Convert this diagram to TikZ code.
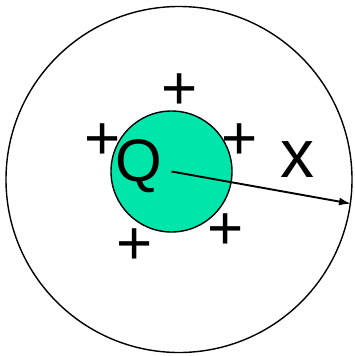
\documentclass[tikz,border=0pt]{standalone}
\usepackage{fontspec}
\setmainfont{Liberation Sans}
\usepackage{tikz}
\usetikzlibrary{arrows.meta,positioning}
\definecolor{ChargeGreen}{RGB}{0,229,170}

\begin{document}
\begin{tikzpicture}[
  x=1pt,y=-1pt,
  sphere/.style={
    draw,
    circle,
    inner sep=0pt,
    line width=1.4pt
  },
  sign/.style={font=\fontsize{62}{64}\selectfont,inner sep=0pt},
  arr/.style={-{Latex[length=12pt,width=8pt]}, line width=1.9pt},
  font=\fontsize{60}{62}\selectfont
]
\useasboundingbox (0,0) rectangle (355,356);
\node[sphere,minimum size=346pt] (gauss) at (179,179.5) {};
\node[sphere,minimum size=121pt,fill=ChargeGreen] (charge) at (171.5,171.5) {};
\node[inner sep=0pt] (qlab) at (138.5,166) {Q};
\node[inner sep=0pt,font=\fontsize{68}{70}\selectfont] (xlab) at (297,160) {x};

\node[sign] (p1) at (180,92) {+};
\node[sign] (p2) at (103,142) {+};
\node[sign] (p3) at (240,142) {+};
\node[sign] (p4) at (226,232) {+};
\node[sign] (p5) at (135,247) {+};

\draw[arr] (charge.center) -- (gauss.-8);
\end{tikzpicture}
\end{document}
